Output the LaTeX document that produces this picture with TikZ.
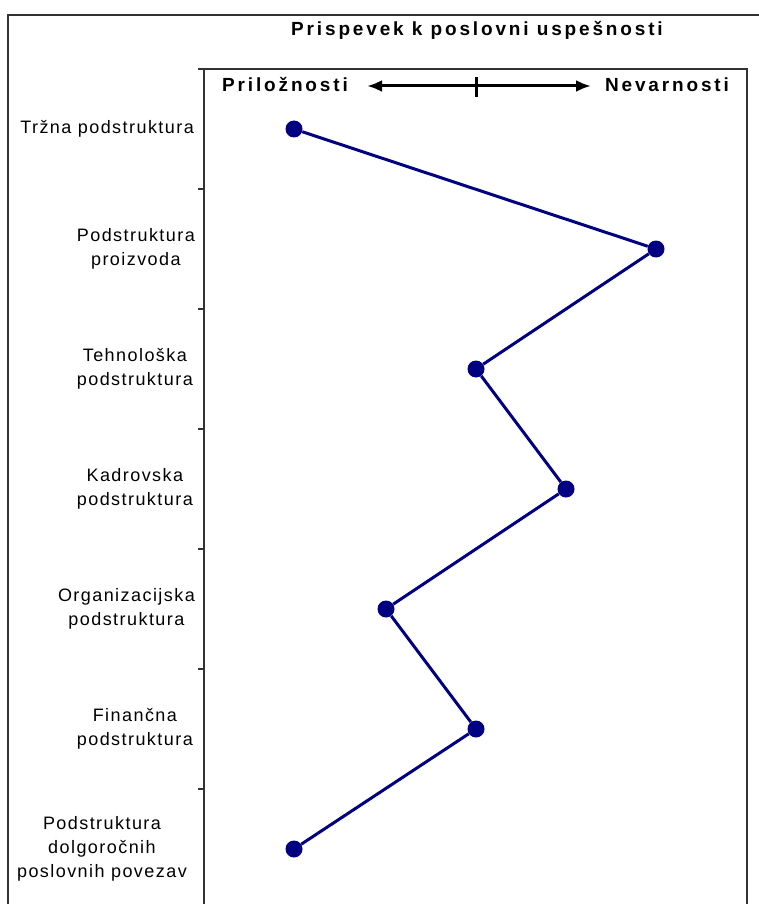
\documentclass[tikz,border=0pt]{standalone}
\usepackage{fontspec}
\setmainfont{Liberation Sans}
\newfontfamily\catfont{Liberation Sans}[LetterSpace=8]
\newfontfamily\headfont{Liberation Sans}[LetterSpace=15]
\usetikzlibrary{arrows.meta}
\definecolor{navy}{RGB}{0,0,128}

\begin{document}
\begin{tikzpicture}[x=1pt,y=-1pt,
  frame/.style={draw=black!80,line width=2pt},
  dot/.style={circle,fill=navy,inner sep=0pt,minimum size=17pt},
  cat/.style={anchor=east,align=center,inner sep=0pt,font=\catfont\fontsize{18}{24}\selectfont},
  head/.style={inner sep=0pt,font=\headfont\bfseries\fontsize{19}{22}\selectfont}]
  \useasboundingbox (0,0) rectangle (759,904);
  % frames
  \draw[frame] (8,904) -- (8,15) -- (759,15);
  \draw[frame] (198,69) -- (747,69) -- (747,904);
  \draw[frame] (204,69) -- (204,904);
  \foreach \y in {189,309,...,789}
    \draw[frame] (198,\y) -- (204,\y);
  % headings
  \node[head] (title) at (477,30) {Prispevek k poslovni uspešnosti};
  \node[head] (opp) at (285,85) {Priložnosti};
  \node[head] (thr) at (667,85) {Nevarnosti};
  \coordinate (al) at (367,86);
  \coordinate (ar) at (591,86);
  \coordinate (mid) at (476,87);
  \draw[line width=3pt,{Latex[length=15pt,width=12pt]}-{Latex[length=15pt,width=12pt]}] (al) -- (ar);
  \draw[line width=3pt] ([yshift=-10pt]mid) -- ([yshift=10pt]mid);
  % categories
  \node[cat] (c1) at (194,129) {Tržna podstruktura};
  \node[cat] (c2) at (195,249) {Podstruktura\\proizvoda};
  \node[cat] (c3) at (193,369) {Tehnološka\\podstruktura};
  \node[cat] (c4) at (193,489) {Kadrovska\\podstruktura};
  \node[cat] (c5) at (195,609) {Organizacijska\\podstruktura};
  \node[cat] (c6) at (193,729) {Finančna\\podstruktura};
  \node[cat] (c7) at (187,849) {Podstruktura\\dolgoročnih\\poslovnih povezav};
  % values
  \node[dot] (p1) at (294,129) {};
  \node[dot] (p2) at (656,249) {};
  \node[dot] (p3) at (476,369) {};
  \node[dot] (p4) at (566,489) {};
  \node[dot] (p5) at (386,609) {};
  \node[dot] (p6) at (476,729) {};
  \node[dot] (p7) at (294,849) {};
  \draw[navy,line width=3pt] (p1) -- (p2) -- (p3) -- (p4) -- (p5) -- (p6) -- (p7);
\end{tikzpicture}
\end{document}
